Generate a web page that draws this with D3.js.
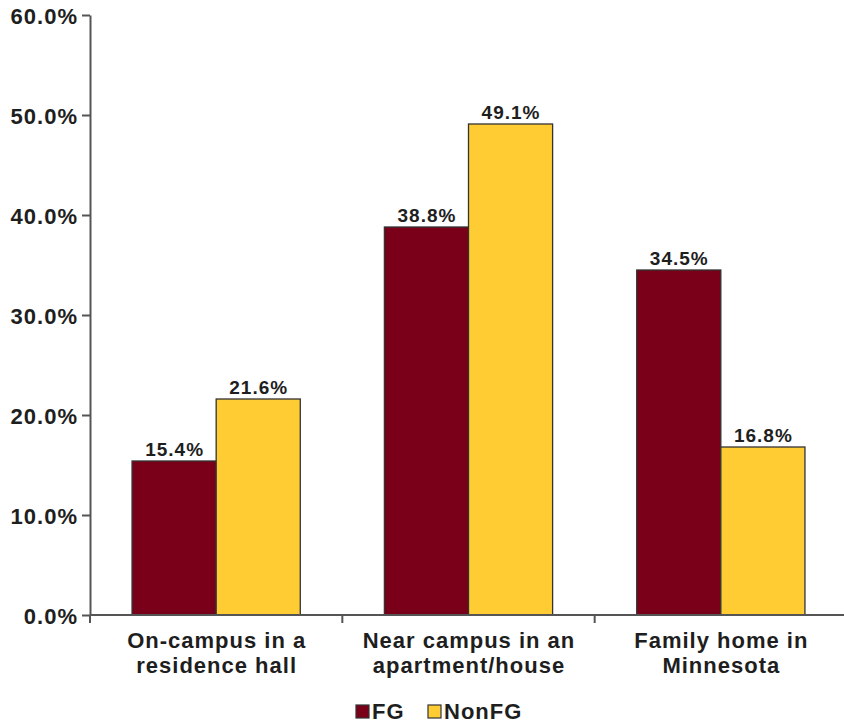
<!DOCTYPE html>
<html>
<head>
<meta charset="utf-8">
<script src="https://cdn.jsdelivr.net/npm/d3@7"></script>
<style>
  html, body { margin: 0; padding: 0; background: #fff; }
  svg text { font-family: "Liberation Sans", Arial, sans-serif; font-weight: bold; fill: #1e1e1e; letter-spacing: 1px; }
</style>
</head>
<body>
<svg id="chart" width="844" height="726"></svg>
<script>
// Where students live: first-generation (FG) vs. non-first-generation (NonFG)
const categories = [
  ["On-campus in a", "residence hall"],
  ["Near campus in an", "apartment/house"],
  ["Family home in", "Minnesota"]
];
const seriesNames = ["FG", "NonFG"];
const fgValues = [0.154, 0.388, 0.345];
const nonFgValues = [0.216, 0.491, 0.168];
const yTicks = [0, 0.1, 0.2, 0.3, 0.4, 0.5, 0.6];
const colors = ["#7a0019", "#ffcc33"];

const svg = d3.select("#chart");
const plot = { left: 90, right: 847, top: 15, bottom: 615 };

const catKeys = categories.map((c, i) => i);
const x0 = d3.scaleBand().domain(catKeys).range([plot.left, plot.right]).padding(0);
const bw = x0.bandwidth();
const x1 = d3.scaleBand().domain(seriesNames).range([bw / 6, bw * 5 / 6]).padding(0);
const y = d3.scaleLinear().domain([0, 0.6]).range([plot.bottom, plot.top]);
const color = d3.scaleOrdinal().domain(seriesNames).range(colors);

const rows = catKeys.map(i => ({ i, values: [fgValues[i], nonFgValues[i]] }));

// Bars
const groups = svg.append("g").selectAll("g")
  .data(rows).join("g")
  .attr("transform", d => `translate(${x0(d.i)},0)`);

groups.selectAll("rect")
  .data(d => seriesNames.map((s, k) => ({ s, v: d.values[k] })))
  .join("rect")
  .attr("x", d => x1(d.s))
  .attr("y", d => y(d.v))
  .attr("width", x1.bandwidth())
  .attr("height", d => y(0) - y(d.v))
  .attr("fill", d => color(d.s))
  .attr("stroke", "#333")
  .attr("stroke-width", 1.3);

// Value labels
groups.selectAll("text.val")
  .data(d => seriesNames.map((s, k) => ({ s, v: d.values[k] })))
  .join("text")
  .attr("class", "val")
  .attr("x", d => x1(d.s) + x1.bandwidth() / 2 + 0.5)
  .attr("y", d => y(d.v) - 5)
  .attr("text-anchor", "middle")
  .style("font-size", "19px")
  .text(d => d3.format(".1%")(d.v));

// Y axis
const yAxis = svg.append("g")
  .attr("transform", `translate(${plot.left},0)`)
  .call(d3.axisLeft(y).tickValues(yTicks).tickFormat(d3.format(".1%")).tickSize(8).tickSizeOuter(0).tickPadding(4));
yAxis.select(".domain").attr("stroke", "#555").attr("stroke-width", 2);
yAxis.selectAll(".tick line").attr("stroke", "#555").attr("stroke-width", 2);
yAxis.selectAll(".tick text")
  .attr("dy", "0.4em")
  .style("font-size", "22px")
  .style("font-family", null)
  .attr("fill", "#1e1e1e");

// X axis: baseline with ticks at category boundaries
const xAxis = svg.append("g").attr("transform", `translate(0,${plot.bottom})`);
xAxis.append("line")
  .attr("x1", plot.left).attr("x2", 844)
  .attr("stroke", "#555").attr("stroke-width", 2);
const bounds = catKeys.map(i => x0(i)).concat([x0(catKeys[catKeys.length - 1]) + bw]);
xAxis.selectAll("line.bt")
  .data(bounds).join("line")
  .attr("class", "bt")
  .attr("x1", d => d).attr("x2", d => d)
  .attr("y1", 0).attr("y2", 8)
  .attr("stroke", "#555").attr("stroke-width", 2);

// Category labels (two lines each)
const catText = svg.append("g").selectAll("text")
  .data(rows).join("text")
  .attr("text-anchor", "middle")
  .attr("x", d => x0(d.i) + bw / 2 + 0.5)
  .attr("y", 648)
  .style("font-size", "22px");
catText.selectAll("tspan")
  .data(d => categories[d.i].map(line => ({ line, cx: x0(d.i) + bw / 2 + 0.5 })))
  .join("tspan")
  .attr("x", d => d.cx)
  .attr("dy", (d, k) => k === 0 ? 0 : 24.5)
  .text(d => d.line);

// Legend
const legendX = [356, 428];
const legend = svg.append("g").selectAll("g")
  .data(seriesNames).join("g")
  .attr("transform", (d, k) => `translate(${legendX[k]},705)`);
legend.append("rect")
  .attr("width", 13).attr("height", 13)
  .attr("fill", d => color(d))
  .attr("stroke", "#333").attr("stroke-width", 1.2);
legend.append("text")
  .attr("x", 16).attr("y", 14)
  .style("font-size", "22px")
  .text(d => d);
</script>
</body>
</html>
